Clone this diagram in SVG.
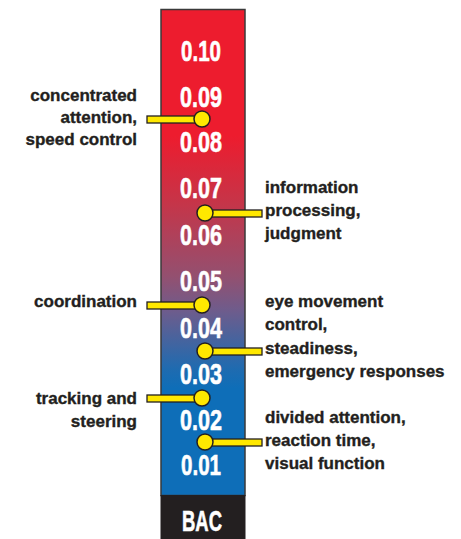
<svg xmlns="http://www.w3.org/2000/svg" width="461" height="539" viewBox="0 0 461 539">
<defs>
<linearGradient id="bacGrad" gradientUnits="userSpaceOnUse" x1="0" y1="10" x2="0" y2="495">
<stop offset="0" stop-color="#ED1C2E"/>
<stop offset="0.26" stop-color="#ED1C2E"/>
<stop offset="0.40" stop-color="#C53549"/>
<stop offset="0.55" stop-color="#935070"/>
<stop offset="0.62" stop-color="#6E5C8C"/>
<stop offset="0.74" stop-color="#1F6BB0"/>
<stop offset="0.78" stop-color="#0E6EB8"/>
<stop offset="1" stop-color="#0E6EB8"/>
</linearGradient>
<style>
.scale{font-family:"Liberation Sans","Arial",sans-serif;font-weight:bold;font-size:29px;fill:#FFFFFF;stroke:#FFFFFF;stroke-width:0.6;text-anchor:middle}
.lbl{font-family:"Liberation Sans","Arial",sans-serif;font-weight:bold;font-size:17px;fill:#231F20;stroke:#231F20;stroke-width:0.35}
.left{text-anchor:end}
.bar{fill:#FFE800;stroke:#231F20;stroke-width:1.3}
.dot{fill:#FFE800;stroke:#231F20;stroke-width:1.5}
</style>
</defs>
<g id="bac-bar">
<rect x="161" y="9.5" width="84" height="486" fill="url(#bacGrad)" stroke="#3A3A3A" stroke-width="1.5"/>
<rect x="160.5" y="495" width="85" height="44" fill="#231F20"/>
<text class="scale" x="202" y="531" font-size="31" textLength="40" lengthAdjust="spacingAndGlyphs">BAC</text>
<text class="scale" x="201" y="61" textLength="40" lengthAdjust="spacingAndGlyphs">0.10</text>
<text class="scale" x="201" y="107" textLength="42" lengthAdjust="spacingAndGlyphs">0.09</text>
<text class="scale" x="201" y="152" textLength="42" lengthAdjust="spacingAndGlyphs">0.08</text>
<text class="scale" x="201" y="198" textLength="42" lengthAdjust="spacingAndGlyphs">0.07</text>
<text class="scale" x="201" y="245" textLength="42" lengthAdjust="spacingAndGlyphs">0.06</text>
<text class="scale" x="201" y="291" textLength="42" lengthAdjust="spacingAndGlyphs">0.05</text>
<text class="scale" x="201" y="338" textLength="42" lengthAdjust="spacingAndGlyphs">0.04</text>
<text class="scale" x="201" y="384" textLength="42" lengthAdjust="spacingAndGlyphs">0.03</text>
<text class="scale" x="201" y="430" textLength="42" lengthAdjust="spacingAndGlyphs">0.02</text>
<text class="scale" x="201" y="475" textLength="40" lengthAdjust="spacingAndGlyphs">0.01</text>
</g>
<g id="connectors">
<rect class="bar" x="147" y="116" width="55" height="7"/>
<circle class="dot" cx="202" cy="119" r="8"/>
<rect class="bar" x="205" y="210" width="57" height="7"/>
<circle class="dot" cx="205" cy="213" r="8"/>
<rect class="bar" x="147" y="302" width="55" height="7"/>
<circle class="dot" cx="202" cy="305" r="8"/>
<rect class="bar" x="205" y="348" width="57" height="7"/>
<circle class="dot" cx="205" cy="351" r="8"/>
<rect class="bar" x="147" y="395" width="55" height="7"/>
<circle class="dot" cx="202" cy="398" r="8"/>
<rect class="bar" x="205" y="439" width="57" height="7"/>
<circle class="dot" cx="205" cy="442" r="8"/>
</g>
<g id="concentrated-attention">
<text class="lbl left" x="137" y="101">concentrated</text>
<text class="lbl left" x="137" y="123">attention,</text>
<text class="lbl left" x="137" y="145">speed control</text>
</g>
<g id="information-processing">
<text class="lbl" x="265" y="193">information</text>
<text class="lbl" x="265" y="216">processing,</text>
<text class="lbl" x="265" y="239">judgment</text>
</g>
<g id="coordination">
<text class="lbl left" x="137" y="307">coordination</text>
</g>
<g id="eye-movement">
<text class="lbl" x="265" y="307">eye movement</text>
<text class="lbl" x="265" y="330">control,</text>
<text class="lbl" x="265" y="354">steadiness,</text>
<text class="lbl" x="265" y="377">emergency responses</text>
</g>
<g id="tracking-steering">
<text class="lbl left" x="137" y="404">tracking and</text>
<text class="lbl left" x="137" y="427">steering</text>
</g>
<g id="divided-attention">
<text class="lbl" x="265" y="423">divided attention,</text>
<text class="lbl" x="265" y="446">reaction time,</text>
<text class="lbl" x="265" y="469">visual function</text>
</g>
</svg>
